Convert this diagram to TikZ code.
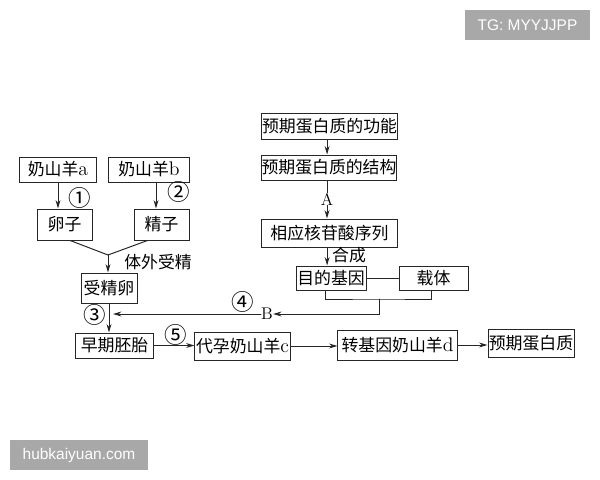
\documentclass[tikz,border=0pt]{standalone}
\usepackage{fontspec}
\usepackage{tikz}
\usetikzlibrary{arrows.meta}
\tikzset{>={Stealth[length=6pt,width=3.5pt]}}
\usetikzlibrary{positioning}
\newfontfamily\cjk{Noto Sans CJK SC}
\newfontfamily\wmfont{Liberation Sans}
\newcommand{\zh}[1]{{\cjk #1}}
\newcommand{\lt}[1]{{\fontsize{14}{16}\selectfont #1}}

\begin{document}
\begin{tikzpicture}[x=0.025cm,y=-0.025cm,line cap=round,
  box/.style={draw=black!85,line width=0.7pt,inner sep=0pt,minimum height=0.625cm,
    font=\fontsize{12}{14}\selectfont},
  lbl/.style={inner sep=0pt,font=\fontsize{12}{14}\selectfont},
  num/.style={inner sep=0pt,font=\fontsize{16}{18}\selectfont},
  arr/.style={->,draw=black!85,line width=0.7pt},
  ln/.style={draw=black!85,line width=0.7pt},
  wm/.style={fill=black!34,text=white,inner sep=0pt,font=\wmfont\fontsize{11}{13}\selectfont}]

  \useasboundingbox (0,0) rectangle (600,480);

  % watermarks
  \node [wm,minimum width=3.125cm,minimum height=0.75cm] (tg) at (527.5,25) {TG: MYYJJPP};
  \node [wm,minimum width=3.45cm,minimum height=0.75cm] (hub) at (79,455) {hubkaiyuan.com};

  % left branch
  \node [box,minimum width=1.9cm] (goatA) at (58,169.5) {\zh{奶山羊}\lt{a}};
  \node [box,minimum width=2cm] (goatB) at (149,169.5) {\zh{奶山羊}\lt{b}};
  \node [box,minimum width=1.375cm,minimum height=0.775cm] (egg) at (64.5,224.5) {\zh{卵子}};
  \node [box,minimum width=1.375cm,minimum height=0.775cm] (sperm) at (161.5,224.5) {\zh{精子}};
  \node [box,minimum width=1.4cm,minimum height=0.75cm] (zygote) at (109,288) {\zh{受精卵}};
  \node [box,minimum width=1.925cm] (embryo) at (114.5,345.5) {\zh{早期胚胎}};
  \node [box,minimum width=2.375cm,minimum height=0.7cm] (surrogate) at (242.5,346) {\zh{代孕奶山羊}\lt{c}};
  \node [box,minimum width=2.975cm,minimum height=0.75cm] (transgoat) at (397.5,345) {\zh{转基因奶山羊}\lt{d}};
  \node [box,minimum width=2.15cm,minimum height=0.7cm] (protein) at (531,343) {\zh{预期蛋白质}};

  % right column
  \node [box,minimum width=3.375cm,minimum height=0.65cm] (function) at (329.5,126) {\zh{预期蛋白质的功能}};
  \node [box,minimum width=3.35cm] (structure) at (329,167.5) {\zh{预期蛋白质的结构}};
  \node [box,minimum width=3.375cm,minimum height=0.7cm] (sequence) at (329.5,233) {\zh{相应核苷酸序列}};
  \node [box,minimum width=1.75cm,minimum height=0.6cm] (gene) at (331,278) {\zh{目的基因}};
  \node [box,minimum width=1.725cm,minimum height=0.6cm] (vector) at (433.5,278) {\zh{载体}};

  % labels
  \node [num] (n1) at (80,198) {\zh{①}};
  \node [num] (n2) at (179,192) {\zh{②}};
  \node [num] (n3) at (95,315) {\zh{③}};
  \node [num] (n4) at (243,302) {\zh{④}};
  \node [num] (n5) at (176,335) {\zh{⑤}};
  \node [lbl] (fert) at (158,262) {\zh{体外受精}};
  \node [lbl] (synth) at (349,255) {\zh{合成}};
  \node [lbl] (A) at (327,199) {A};
  \node [lbl] (B) at (267,314) {B};

  \coordinate (merge) at (108,255);
  \coordinate (join) at (379,299);
  \coordinate (tip) at (113,314);

  % connectors
  \draw [arr] (goatA.south) -- (goatA.south |- egg.north);
  \draw [arr] ([xshift=0.175cm]goatB.south) -- ([xshift=0.175cm]goatB.south |- sperm.north);
  \draw [ln] ([xshift=0.14cm]egg.south) -- (merge);
  \draw [ln] ([xshift=-0.35cm]sperm.south) -- (merge);
  \draw [arr] (merge) -- (merge |- zygote.north);
  \draw [arr] (zygote.south) -- (zygote.south |- embryo.north);

  \draw [arr] ([xshift=-0.06cm]function.south) -- ([xshift=-0.06cm]function.south |- structure.north);
  \draw [ln] (structure.south -| A) -- (A.north);
  \draw [arr] (A.south) -- (A |- sequence.north);
  \draw [arr] ([xshift=-0.06cm]sequence.south) -- ([xshift=-0.06cm]sequence.south |- gene.north);
  \draw [ln] (gene.east) -- (vector.west);
  \draw [ln] ([xshift=-0.15cm]gene.south) |- (join) -| ([xshift=-0.04cm]vector.south);
  \draw [arr] (join) |- (B.east);
  \draw [arr] (B.west) -- (tip);

  \draw [arr] (embryo.east) -- (embryo.east -| surrogate.west);
  \draw [arr] (surrogate.east) -- (surrogate.east -| transgoat.west);
  \draw [arr] (transgoat.east) -- (transgoat.east -| protein.west);

\end{tikzpicture}
\end{document}
